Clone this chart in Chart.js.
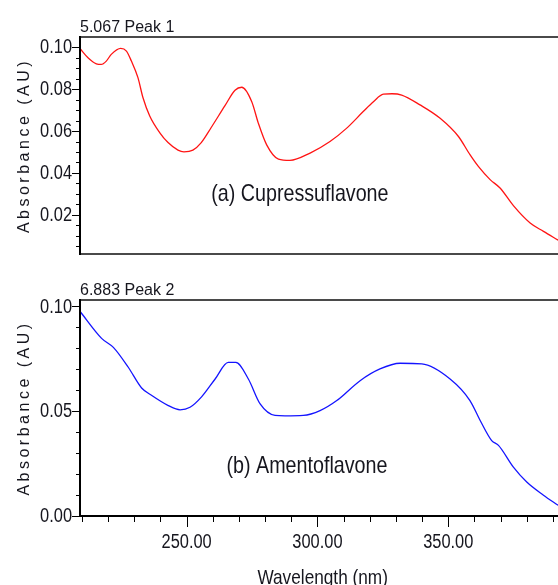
<!DOCTYPE html>
<html>
<head>
<meta charset="utf-8">
<script src="https://cdn.jsdelivr.net/npm/chart.js@4.4.1/dist/chart.umd.min.js"></script>
<style>
  body { margin: 0; background: #fff; }
  #wrap { position: relative; width: 558px; height: 585px; overflow: hidden; background: #fff; }
  #wrap canvas { position: absolute; left: 0; }
  #chartA { top: 0; }
  #chartB { top: 270px; }
</style>
</head>
<body>
<div id="wrap">
  <canvas id="chartA" width="600" height="270"></canvas>
  <canvas id="chartB" width="600" height="315"></canvas>
</div>
<script>
// spectra: wavelength (nm) and absorbance (AU)
const wavelengthA = [209.3, 212.3, 215.5, 217.4, 219.3, 221.2, 224.8, 227.0, 228.9, 231.4,
  233.3, 235.9, 239.7, 242.9, 246.7, 249.0, 252.4, 255.6, 259.4, 264.6, 268.5, 271.1,
  274.9, 277.4, 280.6, 285.1, 289.5, 297.2, 304.8, 311.2, 317.5, 321.4, 325.2, 328.5,
  332.2, 339.2, 346.9, 353.9, 358.3, 361.5, 366.0, 369.8, 374.9, 381.3, 386.4, 392.0];
const absorbanceA = [0.0993, 0.0950, 0.0921, 0.0918, 0.0934, 0.0966, 0.0995, 0.0982, 0.0934, 0.0855,
  0.0760, 0.0672, 0.0593, 0.0545, 0.0509, 0.0501, 0.0509, 0.0545, 0.0617, 0.0720, 0.0795, 0.0809,
  0.0740, 0.0638, 0.0534, 0.0466, 0.0460, 0.0495, 0.0550, 0.0614, 0.0693, 0.0740, 0.0776, 0.0778,
  0.0772, 0.0725, 0.0661, 0.0574, 0.0487, 0.0431, 0.0368, 0.0328, 0.0244, 0.0161, 0.0121, 0.0079];

const wavelengthB = [209.3, 217.5, 222.0, 227.7, 232.8, 236.7, 243.0, 247.5, 251.3, 255.8,
  260.9, 265.9, 268.8, 273.6, 278.1, 283.8, 287.6, 294.6, 301.0, 307.4, 316.3, 323.9,
  331.6, 339.9, 350.7, 358.3, 362.2, 366.6, 369.2, 374.9, 380.0, 386.4, 392.0];
const absorbanceB = [0.0976, 0.0848, 0.0805, 0.0710, 0.0611, 0.0575, 0.0527, 0.0507, 0.0519, 0.0570,
  0.0654, 0.0733, 0.0733, 0.0654, 0.0535, 0.0480, 0.0478, 0.0480, 0.0503, 0.0551, 0.0646, 0.0702,
  0.0729, 0.0726, 0.0654, 0.0551, 0.0456, 0.0360, 0.0337, 0.0233, 0.0162, 0.0099, 0.0051];

const xTicks = [210, 220, 230, 240, 250, 260, 270, 280, 290, 300, 310, 320, 330, 340, 350, 360, 370, 380, 390];
const xLabels = [250, 300, 350];
const yTicksA = [0.005, 0.01, 0.015, 0.02, 0.025, 0.03, 0.035, 0.04, 0.045, 0.05,
  0.055, 0.06, 0.065, 0.07, 0.075, 0.08, 0.085, 0.09, 0.095, 0.10];
const yLabelsA = [0.02, 0.04, 0.06, 0.08, 0.10];
const yTicksB = [0, 0.01, 0.02, 0.03, 0.04, 0.05, 0.06, 0.07, 0.08, 0.09, 0.10];
const yLabelsB = [0, 0.05, 0.10];

const FAMILY = "'Liberation Sans', Arial, sans-serif";
const INK = '#16161e';

function line(ctx, x1, y1, x2, y2) {
  ctx.beginPath();
  ctx.moveTo(x1, y1);
  ctx.lineTo(x2, y2);
  ctx.stroke();
}

// no narrow face is installed, so squeeze the regular one
function narrowText(ctx, text, x, y, size, align, baseline) {
  ctx.save();
  ctx.translate(x, y);
  ctx.scale(0.82, 1);
  ctx.font = size + 'px ' + FAMILY;
  ctx.textAlign = align;
  ctx.textBaseline = baseline;
  ctx.fillText(text, 0, 0);
  ctx.restore();
}

// box, tick marks, tick labels and the texts round each panel
const framePlugin = {
  id: 'frame',
  afterDraw(chart, args, opts) {
    const ctx = chart.ctx;
    const a = chart.chartArea;
    const xs = chart.scales.x;
    const ys = chart.scales.y;
    ctx.save();

    ctx.strokeStyle = '#4a4a4a';
    ctx.lineWidth = 2;
    line(ctx, a.left, a.top, a.right, a.top);
    if (!opts.xAxis) line(ctx, a.left, a.bottom, a.right, a.bottom);

    ctx.strokeStyle = '#000';
    ctx.fillStyle = INK;
    ctx.lineWidth = 1;
    ys.ticks.forEach(t => {
      const y = ys.getPixelForValue(t.value);
      const major = opts.yLabels.includes(t.value);
      line(ctx, a.left - (major ? 8 : 4), Math.round(y) + 0.5, a.left, Math.round(y) + 0.5);
      if (major) narrowText(ctx, t.value.toFixed(2), a.left - 8, y + 0.5, 20, 'right', 'middle');
    });
    if (opts.xAxis) {
      xs.ticks.forEach(t => {
        const x = xs.getPixelForValue(t.value);
        const major = xLabels.includes(t.value);
        line(ctx, Math.round(x) + 0.5, a.bottom, Math.round(x) + 0.5, a.bottom + (major ? 11 : 6));
        if (major) narrowText(ctx, t.value.toFixed(2), x, a.bottom + 32, 20, 'center', 'alphabetic');
      });
      ctx.lineWidth = 2;
      line(ctx, a.left - 1, a.bottom, a.right, a.bottom);
      narrowText(ctx, 'Wavelength (nm)', xs.getPixelForValue(302), chart.height - 1, 21, 'center', 'alphabetic');
    }
    ctx.lineWidth = 2;
    line(ctx, a.left, a.top - 1, a.left, a.bottom + 1);

    ctx.font = '16px ' + FAMILY;
    ctx.textAlign = 'left';
    ctx.textBaseline = 'alphabetic';
    ctx.fillText(opts.peak, a.left, a.top - 5.5);

    narrowText(ctx, opts.note, xs.getPixelForValue(opts.noteAt[0]), ys.getPixelForValue(opts.noteAt[1]),
      24, 'center', 'alphabetic');

    ctx.save();
    ctx.translate(28.5, (a.top + a.bottom) / 2);
    ctx.rotate(-Math.PI / 2);
    ctx.font = '16px ' + FAMILY;
    ctx.textAlign = 'center';
    ctx.letterSpacing = '3.5px';
    ctx.fillText('Absorbance (AU)', 0, 0);
    ctx.restore();

    ctx.restore();
  }
};

function makeChart(id, wl, ab, color, cfg) {
  return new Chart(document.getElementById(id), {
    type: 'line',
    data: {
      datasets: [{
        data: wl.map((w, i) => ({ x: w, y: ab[i] })),
        borderColor: color,
        borderWidth: 1.3,
        pointRadius: 0,
        fill: false,
        cubicInterpolationMode: 'monotone'
      }]
    },
    options: {
      responsive: false,
      animation: false,
      events: [],
      layout: { padding: cfg.padding },
      scales: {
        x: {
          type: 'linear',
          display: cfg.xAxis,
          min: 209.25,
          max: 408,
          afterBuildTicks: s => { s.ticks = xTicks.map(v => ({ value: v })); },
          afterFit: s => { s.height = cfg.xHeight; },
          grid: { display: false, drawTicks: false, tickLength: 0 },
          border: { display: false },
          ticks: { display: false }
        },
        y: {
          min: cfg.yMin,
          max: cfg.yMax,
          afterBuildTicks: s => { s.ticks = cfg.yTicks.map(v => ({ value: v })); },
          afterFit: s => { s.width = 80; },
          grid: { display: false, drawTicks: false, tickLength: 0 },
          border: { display: false },
          ticks: { display: false }
        }
      },
      plugins: {
        legend: { display: false },
        tooltip: { enabled: false },
        frame: {
          peak: cfg.peak,
          note: cfg.note,
          noteAt: cfg.noteAt,
          xAxis: cfg.xAxis,
          yLabels: cfg.yLabels
        }
      }
    },
    plugins: [framePlugin]
  });
}

makeChart('chartA', wavelengthA, absorbanceA, '#ff1414', {
  padding: { top: 37, bottom: 16, left: 0, right: 0 },
  xAxis: false, xHeight: 0,
  yMin: 0.0013, yMax: 0.1049,
  yTicks: yTicksA, yLabels: yLabelsA,
  peak: '5.067 Peak 1',
  note: '(a) Cupressuflavone', noteAt: [293.3, 0.0264]
});

makeChart('chartB', wavelengthB, absorbanceB, '#1414ff', {
  padding: { top: 30, bottom: 0, left: 0, right: 0 },
  xAxis: true, xHeight: 69,
  yMin: 0, yMax: 0.1031,
  yTicks: yTicksB, yLabels: yLabelsB,
  peak: '6.883 Peak 2',
  note: '(b) Amentoflavone', noteAt: [296, 0.0207]
});
</script>
</body>
</html>
